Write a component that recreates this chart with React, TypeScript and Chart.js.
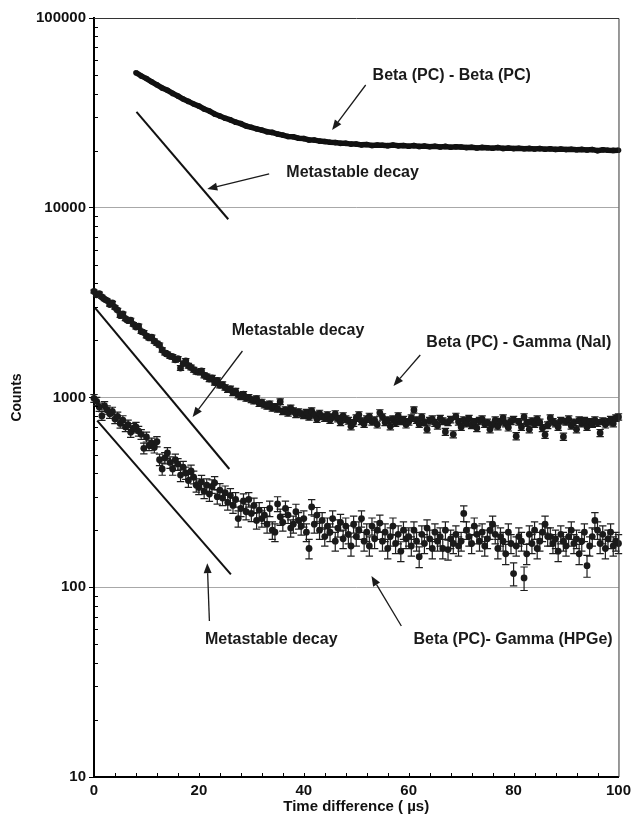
import { useEffect, useRef } from 'react';
import { Chart, registerables } from 'chart.js';

Chart.register(...registerables);

// ---------- data ----------
// Beta(PC)-Beta(PC): one value per microsecond starting at 8 µs
const BB_START = 8;
const BB_STEP = 1;
const betaBetaCounts = [
  51500, 49500, 47950, 46100, 44450, 42800, 41600, 40050, 38800, 37400,
  36350, 35200, 34350, 33150, 32350, 31200, 30450, 29650, 29050, 28250,
  27750, 26950, 26550, 26050, 25650, 25150, 24950, 24450, 24150, 23750,
  23650, 23250, 23150, 22750, 22750, 22450, 22350, 22150, 22050, 21850,
  21850, 21650, 21650, 21450, 21550, 21300, 21400, 21350, 21250, 21400,
  21200, 21300, 21100, 21250, 21050, 21150, 20950, 21100, 20900, 21050,
  20850, 20950, 20900, 20750, 20850, 20650, 20800, 20700, 20600, 20750,
  20550, 20650, 20500, 20600, 20450, 20550, 20400, 20500, 20350, 20450,
  20300, 20400, 20250, 20350, 20200, 20300, 20150, 20250, 20000, 20200,
  20100, 20050, 20100,
];

// Gamma series: one value every 0.5 µs from 0 to 100 µs
const G_START = 0;
const G_STEP = 0.5;
const betaNaICounts = [
  3620, 3480, 3530, 3390, 3300, 3240, 3090, 3150, 2980, 2890,
  2700, 2760, 2600, 2540, 2560, 2430, 2350, 2380, 2230, 2200,
  2110, 2060, 2080, 1980, 1930, 1890, 1780, 1720, 1690, 1650,
  1640, 1580, 1600, 1430, 1510, 1560, 1470, 1440, 1400, 1370,
  1360, 1380, 1310, 1290, 1250, 1270, 1200, 1230, 1160, 1170,
  1130, 1100, 1110, 1060, 1080, 1030, 1010, 1040, 990, 1000,
  975, 960, 985, 930, 945, 915, 900, 925, 880, 895,
  870, 950, 845, 860, 830, 880, 850, 815, 840, 820,
  805, 835, 790, 850, 810, 770, 825, 795, 780, 810,
  760, 790, 820, 775, 740, 800, 770, 755, 705, 735,
  780, 810, 750, 725, 770, 795, 745, 760, 720, 830,
  790, 740, 760, 705, 770, 735, 800, 750, 765, 720,
  745, 780, 860, 760, 725, 790, 740, 680, 755, 770,
  735, 710, 775, 750, 660, 740, 765, 640, 795, 745,
  700, 760, 730, 775, 715, 745, 690, 755, 770, 725,
  740, 680, 720, 760, 705, 745, 780, 730, 695, 750,
  765, 625, 745, 700, 790, 735, 680, 750, 725, 770,
  740, 690, 636, 715, 780, 745, 730, 700, 755, 622,
  745, 770, 710, 740, 680, 760, 730, 755, 700, 745,
  725, 760, 735, 650, 750, 720, 745, 765, 730, 780,
  790,
];
const betaHPGeCounts = [
  990, 955, 890, 800, 905, 860, 820, 845, 770, 795,
  730, 760, 700, 720, 655, 690, 700, 665, 640, 540,
  620, 560, 575, 545, 585, 470, 420, 480, 510, 455,
  420, 470, 445, 390, 430, 400, 365, 410, 380, 345,
  335, 360, 320, 345, 310, 340, 355, 300, 325, 295,
  315, 280, 305, 270, 290, 230, 260, 285, 250, 290,
  245, 270, 225, 255, 230, 240, 215, 260, 200, 195,
  275, 235, 220, 260, 240, 205, 215, 250, 225, 210,
  230, 195, 160, 265, 215, 240, 200, 225, 185, 210,
  195, 230, 175, 205, 220, 180, 210, 190, 165, 215,
  185, 200, 230, 175, 195, 165, 210, 180, 200, 218,
  175, 195, 160, 185, 210, 170, 190, 155, 200, 180,
  185, 165, 200, 175, 145, 190, 170, 205, 180, 160,
  195, 175, 185, 160, 200, 158, 180, 170, 190, 165,
  175, 245, 200, 185, 170, 210, 190, 175, 195, 165,
  180, 200, 215, 190, 160, 185, 175, 150, 195, 170,
  118, 165, 185, 175, 112, 150, 190, 170, 200, 160,
  175, 195, 215, 185, 185, 170, 180, 155, 190, 175,
  165, 185, 200, 170, 180, 150, 175, 195, 130, 165,
  185, 225, 200, 170, 190, 160, 180, 195, 165, 175,
  170,
];

// Metastable decay guide lines (time µs, counts) end points
const metaBetaT = [8.1, 25.6];
const metaBetaV = [32000, 8700];
const metaNaIT = [0.2, 25.8];
const metaNaIV = [2970, 420];
const metaHPGeT = [0.6, 26.1];
const metaHPGeV = [755, 117];

// Axis ticks
const yTickValues = [10, 100, 1000, 10000, 100000];
const yGridValues = [100, 1000, 10000];
const xTickStep = 20;
const xMinorStep = 4;

// Annotation labels (text, time, counts)
const labelTexts = [
  'Beta (PC) - Beta (PC)',
  'Metastable decay',
  'Metastable decay',
  'Beta (PC) - Gamma (NaI)',
  'Metastable decay',
  'Beta (PC)- Gamma (HPGe)',
];
const labelT = [68.2, 49.3, 38.9, 81.0, 33.8, 79.9];
const labelV = [50000, 15400, 2240, 1940, 52.7, 52.7];

// Arrows: tail (t, v) -> head (t, v)
const arrowTailT = [51.8, 33.4, 28.3, 62.2, 22.0, 58.6];
const arrowTailV = [44350, 15070, 1758, 1675, 66.4, 62.5];
const arrowHeadT = [45.4, 21.6, 18.8, 57.1, 21.6, 52.9];
const arrowHeadV = [25700, 12560, 789, 1150, 134, 114.6];

const FONT = "'Liberation Sans', Arial, Helvetica, sans-serif";

function toPoints(start: number, step: number, arr: number[]) {
  return arr.map((v, i) => ({ x: start + i * step, y: v }));
}
function pairPoints(ts: number[], vs: number[]) {
  return ts.map((t, i) => ({ x: t, y: vs[i] }));
}

const decorPlugin = {
  id: 'decor',
  beforeDatasetsDraw(chart: any) {
    const { ctx, scales } = chart;
    const xs = scales.x;
    const ys = scales.y;
    ctx.save();
    ctx.strokeStyle = '#1e1e1e';
    ctx.lineWidth = 1.2;
    chart.data.datasets.forEach((ds: any) => {
      if (!ds.errorScale) return;
      ds.data.forEach((p: any) => {
        const err = ds.errorScale * Math.sqrt(p.y);
        const px = xs.getPixelForValue(p.x);
        const top = ys.getPixelForValue(p.y + err);
        const bot = ys.getPixelForValue(p.y - err);
        ctx.beginPath();
        ctx.moveTo(px, top);
        ctx.lineTo(px, bot);
        ctx.moveTo(px - 3.7, top);
        ctx.lineTo(px + 3.7, top);
        ctx.moveTo(px - 3.7, bot);
        ctx.lineTo(px + 3.7, bot);
        ctx.stroke();
      });
    });
    ctx.restore();
  },
  afterDraw(chart: any) {
    const { ctx, chartArea: ca, scales } = chart;
    const xs = scales.x;
    const ys = scales.y;
    ctx.save();
    // top & right frame
    ctx.strokeStyle = '#333';
    ctx.lineWidth = 1;
    ctx.beginPath();
    ctx.moveTo(ca.left, ca.top + 0.5);
    ctx.lineTo(ca.right + 0.5, ca.top + 0.5);
    ctx.lineTo(ca.right + 0.5, ca.bottom);
    ctx.stroke();
    // inward minor ticks
    ctx.strokeStyle = '#000';
    ctx.beginPath();
    for (let t = xMinorStep; t < xs.max; t += xMinorStep) {
      const px = Math.round(xs.getPixelForValue(t)) + 0.5;
      ctx.moveTo(px, ca.bottom);
      ctx.lineTo(px, ca.bottom - 4);
    }
    for (let d = ys.min; d < ys.max; d *= 10) {
      for (let m = 2; m <= 9; m++) {
        const py = Math.round(ys.getPixelForValue(m * d)) + 0.5;
        ctx.moveTo(ca.left, py);
        ctx.lineTo(ca.left + 4, py);
      }
    }
    ctx.stroke();
    // labels
    ctx.fillStyle = '#1a1a1a';
    ctx.font = `bold 16px ${FONT}`;
    ctx.textAlign = 'center';
    ctx.textBaseline = 'middle';
    labelTexts.forEach((txt, i) => {
      ctx.fillText(txt, xs.getPixelForValue(labelT[i]), ys.getPixelForValue(labelV[i]));
    });
    // arrows
    ctx.strokeStyle = '#1a1a1a';
    ctx.lineWidth = 1.3;
    arrowTailT.forEach((_, i) => {
      const x1 = xs.getPixelForValue(arrowTailT[i]);
      const y1 = ys.getPixelForValue(arrowTailV[i]);
      const x2 = xs.getPixelForValue(arrowHeadT[i]);
      const y2 = ys.getPixelForValue(arrowHeadV[i]);
      const ang = Math.atan2(y2 - y1, x2 - x1);
      const hl = 10;
      const hw = 4;
      const bx = x2 - hl * Math.cos(ang);
      const by = y2 - hl * Math.sin(ang);
      ctx.beginPath();
      ctx.moveTo(x1, y1);
      ctx.lineTo(bx, by);
      ctx.stroke();
      ctx.beginPath();
      ctx.moveTo(x2, y2);
      ctx.lineTo(bx + hw * Math.sin(ang), by - hw * Math.cos(ang));
      ctx.lineTo(bx - hw * Math.sin(ang), by + hw * Math.cos(ang));
      ctx.closePath();
      ctx.fill();
    });
    ctx.restore();
  },
};

export default function App() {
  const ref = useRef<HTMLCanvasElement>(null);
  useEffect(() => {
    if (!ref.current) return;
    const metaStyle = {
      showLine: true,
      borderColor: '#111',
      borderWidth: 2,
      pointRadius: 0,
      fill: false,
    };
    const chart = new Chart(ref.current, {
      type: 'scatter',
      data: {
        datasets: [
          { label: 'meta1', data: pairPoints(metaBetaT, metaBetaV), ...metaStyle },
          { label: 'meta2', data: pairPoints(metaNaIT, metaNaIV), ...metaStyle },
          { label: 'meta3', data: pairPoints(metaHPGeT, metaHPGeV), ...metaStyle },
          {
            label: 'Beta (PC) - Beta (PC)',
            data: toPoints(BB_START, BB_STEP, betaBetaCounts),
            showLine: true,
            borderColor: '#111',
            backgroundColor: '#111',
            borderWidth: 5.5,
            pointRadius: 2.8,
            pointBorderWidth: 0,
            clip: false,
          },
          {
            label: 'Beta (PC) - Gamma (NaI)',
            data: toPoints(G_START, G_STEP, betaNaICounts),
            backgroundColor: '#1a1a1a',
            pointRadius: 3.4,
            pointBorderWidth: 0,
            errorScale: 1.1,
            clip: false,
          } as any,
          {
            label: 'Beta (PC)- Gamma (HPGe)',
            data: toPoints(G_START, G_STEP, betaHPGeCounts),
            backgroundColor: '#1a1a1a',
            pointRadius: 3.4,
            pointBorderWidth: 0,
            errorScale: 1.5,
            clip: false,
          } as any,
        ],
      },
      options: {
        animation: false,
        responsive: false,
        layout: { padding: { left: 0, right: 15, top: 18, bottom: 0 } },
        plugins: { legend: { display: false }, tooltip: { enabled: false } },
        scales: {
          x: {
            type: 'linear',
            min: 0,
            max: 100,
            afterFit: (s: any) => { s.height = 49; },
            ticks: {
              stepSize: xTickStep,
              color: '#111',
              padding: 5,
              font: { family: FONT, size: 15, weight: 'bold' },
              maxRotation: 0,
            },
            grid: { display: true, drawOnChartArea: false, drawTicks: false },
            border: { display: true, color: '#000', width: 2 },
            title: {
              display: true,
              text: 'Time difference ( µs)',
              color: '#111',
              font: { family: FONT, size: 15, weight: 'bold' },
              padding: { top: 0, bottom: 10 },
            },
          },
          y: {
            type: 'logarithmic',
            min: 10,
            max: 100000,
            afterFit: (s: any) => { s.width = 94; },
            afterBuildTicks: (s: any) => {
              s.ticks = yTickValues.map((v) => ({ value: v }));
            },
            ticks: {
              color: '#111',
              padding: 3,
              font: { family: FONT, size: 15, weight: 'bold' },
              callback: (v: any) => String(v),
            },
            grid: {
              color: (c: any) =>
                c.tick && yGridValues.includes(c.tick.value) ? '#a8a8a8' : 'rgba(0,0,0,0)',
              lineWidth: 1,
              drawTicks: true,
              tickLength: 5,
              tickColor: '#000',
            },
            border: { display: true, color: '#000', width: 2 },
            title: {
              display: true,
              text: 'Counts',
              color: '#111',
              font: { family: FONT, size: 14, weight: 'bold' },
              padding: { top: 9, bottom: 0 },
            },
          },
        },
      } as any,
      plugins: [decorPlugin],
    });
    return () => chart.destroy();
  }, []);
  return (
    <canvas
      ref={ref}
      width={636}
      height={826}
      style={{ position: 'absolute', left: 0, top: 0, display: 'block' }}
    />
  );
}
